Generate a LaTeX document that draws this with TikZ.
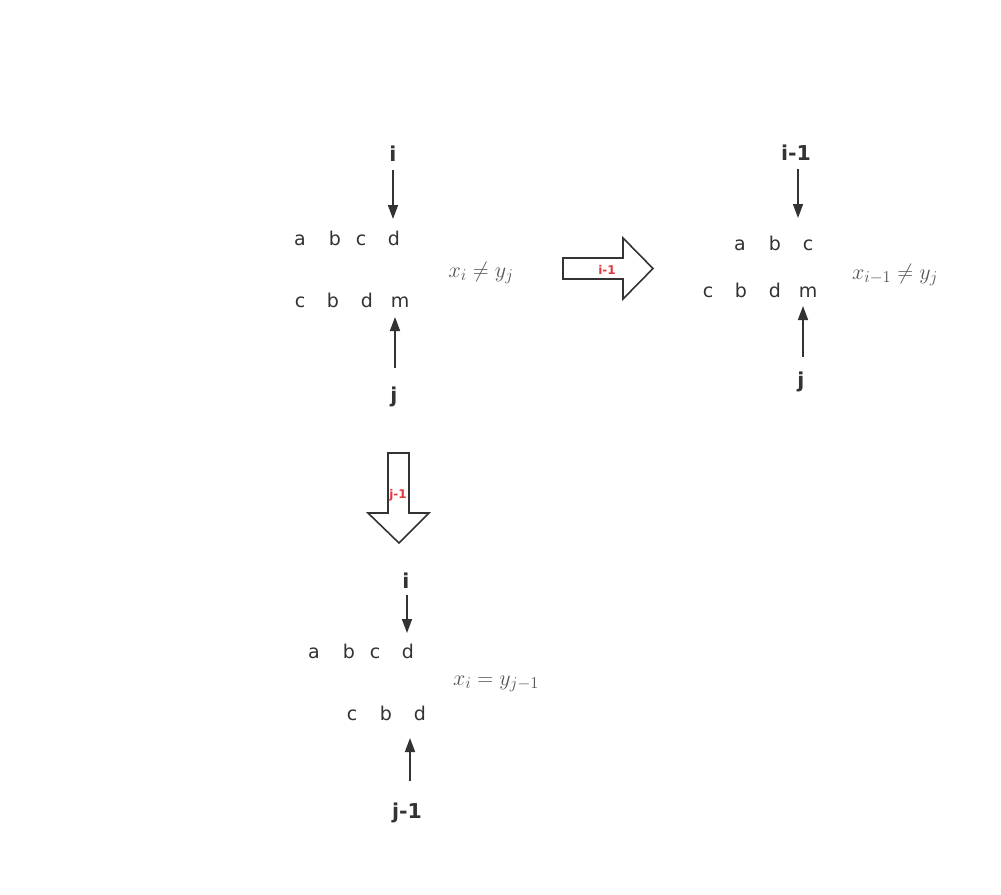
\RequirePackage{fix-cm}
\documentclass[tikz,border=0pt]{standalone}
\usepackage{fontspec}
\setmainfont{DejaVu Sans}
\DeclareMathSizes{22}{22}{16.5}{12}
\usetikzlibrary{arrows.meta}
\definecolor{ink}{HTML}{333333}
\definecolor{mgray}{HTML}{555555}
\definecolor{lred}{HTML}{E0383E}
\begin{document}
\begin{tikzpicture}[x=1pt,y=-1pt,
  lt/.style={inner sep=0pt,anchor=base,text=ink,font=\fontsize{19}{22}\selectfont},
  lbl/.style={inner sep=0pt,anchor=base,text=ink,font=\fontsize{20.5}{24}\selectfont\bfseries},
  mth/.style={inner sep=0pt,anchor=base,text=mgray,font=\fontsize{22}{26}\selectfont},
  arr/.style={draw=ink,line width=1.6pt,-{Triangle[length=14pt,width=10pt]}},
  fat/.style={draw=ink,line width=1.6pt,fill=white,line join=miter},
  rl/.style={inner sep=0pt,text=lred,font=\fontsize{12}{14}\selectfont\bfseries}]
\useasboundingbox[fill=white] (0,0) rectangle (1001,894);

% ---------- top-left group ----------
\node[lbl] (ti) at (393,161) {i};
\node[lt] (ta1) at (300,245) {a};
\node[lt] (tb1) at (335,245) {b};
\node[lt] (tc1) at (361,245) {c};
\node[lt] (td1) at (394,245) {d};
\node[lt] (tc2) at (300,307) {c};
\node[lt] (tb2) at (333,307) {b};
\node[lt] (td2) at (367,307) {d};
\node[lt] (tm2) at (400,307) {m};
\node[lbl] (tj) at (394,402) {j};
\node[mth] (tmath) at (481,277) {$x_i \neq y_j$};
\coordinate (tiS) at (393,170);
\coordinate (tiE) at (393,219);
\coordinate (tjS) at (395,368);
\coordinate (tjE) at (395,317);
\draw[arr] (tiS) -- (tiE);
\draw[arr] (tjS) -- (tjE);

% ---------- right fat arrow ----------
\draw[fat] (563,258) -- (623,258) -- (623,238) -- (653,268.5) -- (623,299) -- (623,279) -- (563,279) -- cycle;
\node[rl] (rlab) at (607,270) {i-1};

% ---------- top-right group ----------
\node[lbl] (ri) at (796,160) {i-1};
\node[lt] (ra1) at (740,250) {a};
\node[lt] (rb1) at (775,250) {b};
\node[lt] (rc1) at (808,250) {c};
\node[lt] (rc2) at (708,297) {c};
\node[lt] (rb2) at (741,297) {b};
\node[lt] (rd2) at (775,297) {d};
\node[lt] (rm2) at (808,297) {m};
\node[lbl] (rj) at (801,387) {j};
\node[mth] (rmath) at (895,279) {$x_{i-1} \neq y_j$};
\coordinate (riS) at (798,169);
\coordinate (riE) at (798,218);
\coordinate (rjS) at (803,357);
\coordinate (rjE) at (803,306);
\draw[arr] (riS) -- (riE);
\draw[arr] (rjS) -- (rjE);

% ---------- down fat arrow ----------
\draw[fat] (388,453) -- (409,453) -- (409,513) -- (429,513) -- (399,543) -- (368,513) -- (388,513) -- cycle;
\node[rl] (dlab) at (398,495) {j-1};

% ---------- bottom group ----------
\node[lbl] (bi) at (406,588) {i};
\node[lt] (ba1) at (314,658) {a};
\node[lt] (bb1) at (349,658) {b};
\node[lt] (bc1) at (375,658) {c};
\node[lt] (bd1) at (408,658) {d};
\node[lt] (bc2) at (352,720) {c};
\node[lt] (bb2) at (386,720) {b};
\node[lt] (bd2) at (420,720) {d};
\node[lbl] (bj) at (407,818) {j-1};
\node[mth] (bmath) at (496,685) {$x_i = y_{j-1}$};
\coordinate (biS) at (407,595);
\coordinate (biE) at (407,633);
\coordinate (bjS) at (410,781);
\coordinate (bjE) at (410,738);
\draw[arr] (biS) -- (biE);
\draw[arr] (bjS) -- (bjE);
\end{tikzpicture}
\end{document}
